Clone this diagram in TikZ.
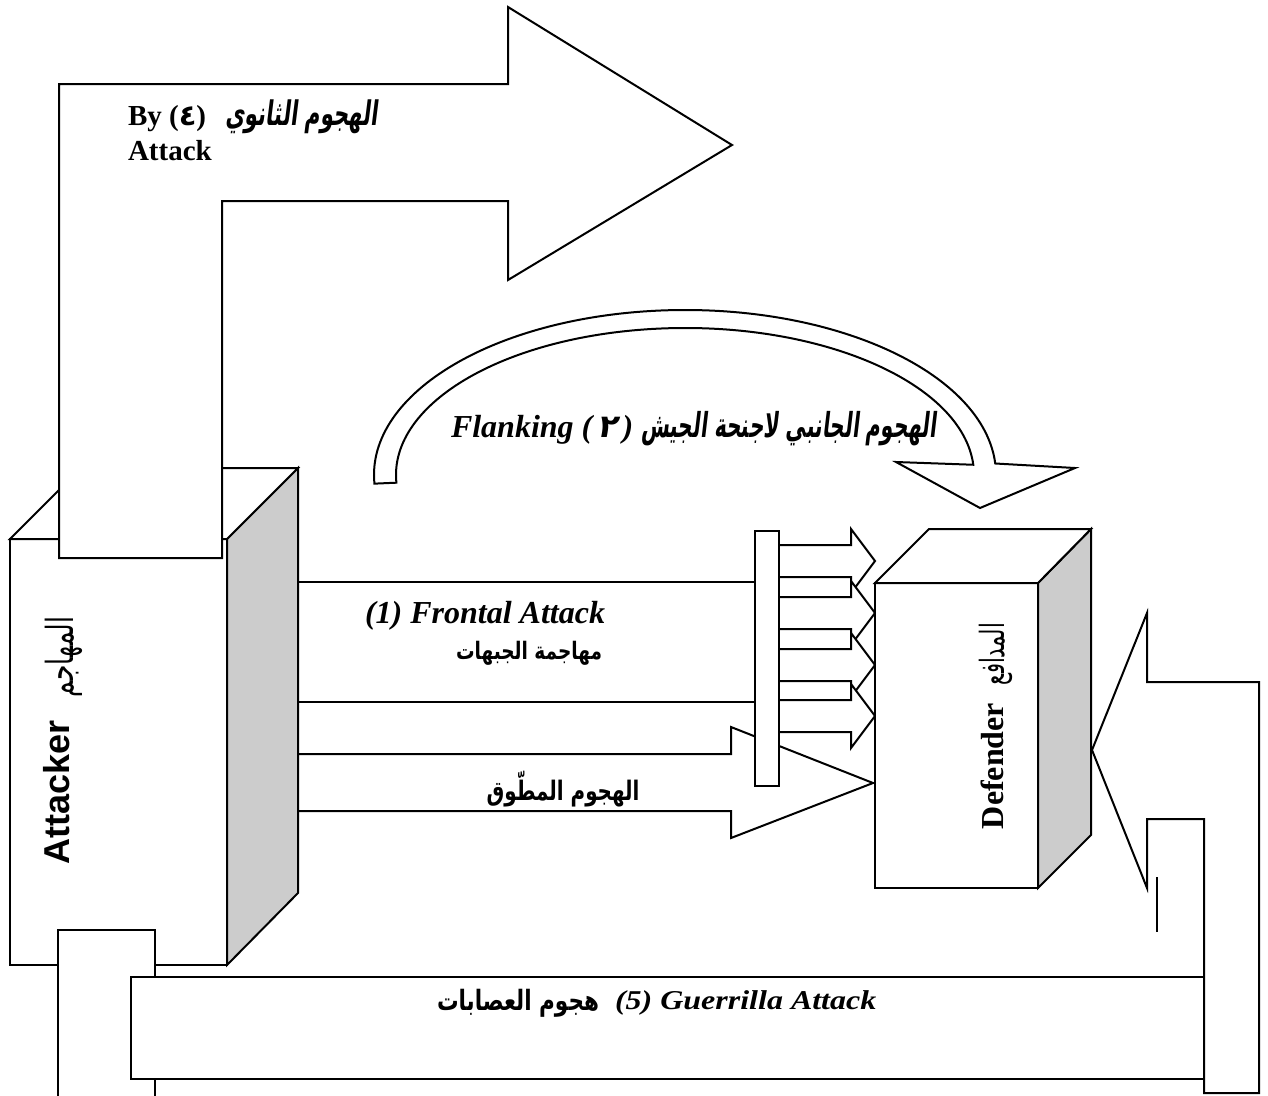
\documentclass[tikz,border=0pt]{standalone}
\usepackage{fontspec}
\setmainfont{Liberation Serif}
\newfontfamily\sansfont{Liberation Sans}
\newfontfamily\arabicfont[Script=Arabic]{DejaVu Sans}
\newfontfamily\arabicslant[Script=Arabic,FakeSlant=0.2]{DejaVu Sans}
\TeXXeTstate=1
\usetikzlibrary{calc}
\newcommand\arw[3]{\scalebox{1}[#2]{\resizebox{#1}{!}{#3}}}
\tikzset{
  shapeline/.style={draw=black, line width=2pt, line join=miter, fill=white},
  plainline/.style={draw=black, line width=2pt},
  sideface/.style={shapeline, fill=black!20},
  lbl/.style={inner sep=0pt, outer sep=0pt, text=black},
}
\begin{document}
\begin{tikzpicture}[x=1pt,y=-1pt]
\useasboundingbox[fill=white] (0,0) rectangle (1268,1095);

% encircling arrow and frontal band lines
\draw[shapeline] (298,754) -- (731,754) -- (731,727) -- (873,783) -- (731,838) -- (731,811) -- (298,811);
\draw[plainline] (298,582) -- (760,582);
\draw[plainline] (298,702) -- (760,702);

% attacker box
\draw[shapeline] (10,539) rectangle (227,965);
\draw[sideface] (227,539) -- (298,468) -- (298,893) -- (227,965) -- cycle;
\draw[shapeline] (10,539) -- (81,468) -- (298,468) -- (227,539) -- cycle;

% big bent arrow (4)
\draw[shapeline] (59,558) -- (59,84) -- (508,84) -- (508,7) -- (732,145) -- (508,280) -- (508,201) -- (222,201) -- (222,558) -- cycle;

% small frontal arrows
\foreach \c in {561,613,665,716}{
  \draw[shapeline] (770,\c-16) -- (851,\c-16) -- (851,\c-32) -- (875,\c) -- (851,\c+32) -- (851,\c+16) -- (770,\c+16) -- cycle;
}
% front bar
\draw[shapeline] (755,531) rectangle (779,786);

% defender box
\draw[shapeline] (875,583) rectangle (1038,888);
\draw[sideface] (1038,583) -- (1091,529) -- (1091,835) -- (1038,888) -- cycle;
\draw[shapeline] (875,583) -- (929,529) -- (1091,529) -- (1038,583) -- cycle;

% flanking curved arrow
\coordinate (C) at (685,475);
\draw[shapeline] ($(C)+(177:311 and 165)$) arc[start angle=177, end angle=356, x radius=311, y radius=165]
  -- (1075,468) -- (980,508) -- (896,462) -- ($(C)+(356:289 and 147)$)
  arc[start angle=356, end angle=177, x radius=289, y radius=147] -- cycle;

% right return arrow
\draw[shapeline] (1092,750) -- (1147,613) -- (1147,682) -- (1259,682) -- (1259,1093) -- (1204,1093) -- (1204,819) -- (1147,819) -- (1147,888) -- cycle;
\draw[plainline] (1157,877) -- (1157,932);

% left U piece
\fill[white] (58,930) rectangle (155,1095);
\draw[plainline] (58,1097) -- (58,930) -- (155,930) -- (155,1097);

% guerrilla band
\draw[shapeline] (131,977) rectangle (1204,1079);

% labels
\node[lbl, anchor=base west] (by) at (128,125) {\fontsize{29}{31}\selectfont\bfseries By ({\arabicfont ٤})};
\node[lbl, anchor=base west] (byar) at (225,125) {\arw{153pt}{1.6}{\arabicslant\bfseries\fontsize{24}{26}\selectfont\beginR الهجوم الثانوي\endR}};
\node[lbl, anchor=base west] (attack4) at (128,160) {\fontsize{29}{31}\selectfont\bfseries Attack};

\node[lbl, anchor=base west] (flank) at (451,437) {\fontsize{32}{34}\selectfont\bfseries{\itshape Flanking (}\,{\arabicslant ٢}\,{\itshape )}};
\node[lbl, anchor=base west] (flankar) at (641,437) {\arw{295pt}{1.7}{\arabicslant\bfseries\fontsize{24}{26}\selectfont\beginR الهجوم الجانبي لاجنحة الجيش\endR}};

\node[lbl, anchor=base west] (front) at (365,623) {\fontsize{32}{34}\selectfont\bfseries\itshape (1) Frontal Attack};
\node[lbl] (frontar) at (529,653) {\arw{146pt}{1.3}{\arabicfont\bfseries\fontsize{20}{22}\selectfont\beginR مهاجمة الجبهات\endR}};
\node[lbl] (encar) at (563,789) {\arw{153pt}{1.35}{\arabicfont\bfseries\fontsize{20}{22}\selectfont\beginR الهجوم المطّوق\endR}};

\node[lbl, rotate=90] (att) at (57,792) {\fontsize{36}{38}\selectfont\sansfont\bfseries Attacker};
\node[lbl, rotate=90] (attar) at (64,657) {\arw{80pt}{1.5}{\arabicfont\fontsize{20}{22}\selectfont\beginR المهاجم\endR}};

\node[lbl, rotate=90] (def) at (992,766) {\fontsize{32}{34}\selectfont\bfseries Defender};
\node[lbl, rotate=90] (defar) at (996,654) {\arw{62pt}{1.6}{\arabicfont\fontsize{20}{22}\selectfont\beginR المدافع\endR}};

\node[lbl] (guerar) at (518,1003) {\arw{162pt}{1.3}{\arabicfont\bfseries\fontsize{20}{22}\selectfont\beginR هجوم العصابات\endR}};
\node[lbl, anchor=west] (guer) at (615,1003) {\scalebox{1}[0.85]{\fontsize{32}{34}\selectfont\bfseries\itshape (5) Guerrilla Attack}};
\end{tikzpicture}
\end{document}
